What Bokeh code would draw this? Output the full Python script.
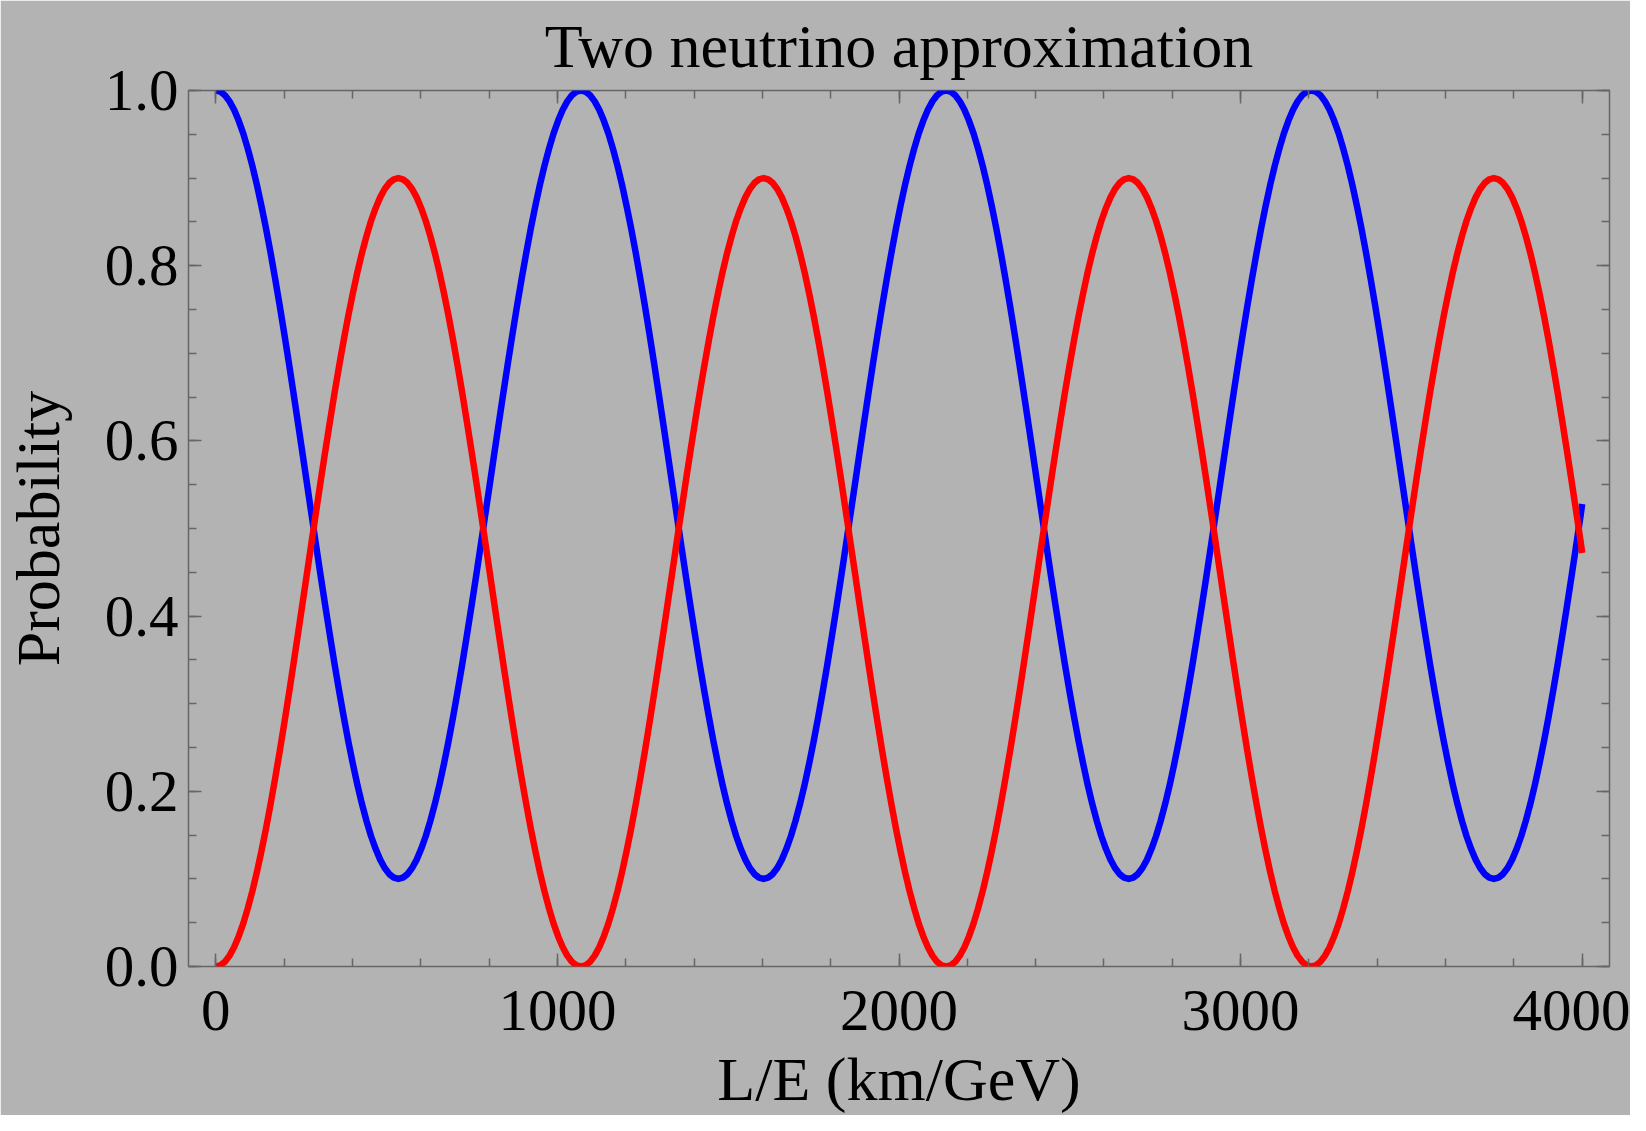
from bokeh.plotting import figure
from bokeh.models import (LinearAxis, SingleIntervalTicker, Range1d,
                          PrintfTickFormatter, CustomLabelingPolicy)
from bokeh.embed import file_html
from bokeh.resources import INLINE

# ---- data ----
le_km_gev = [
    0.0, 13.4, 26.7, 40.1, 53.5, 66.8, 80.2, 93.5, 106.9, 120.3,
    133.6, 147.0, 160.4, 173.7, 187.1, 200.4, 213.8, 227.2, 240.5, 253.9,
    267.3, 280.6, 294.0, 307.3, 320.7, 334.1, 347.4, 360.8, 374.2, 387.5,
    400.9, 414.2, 427.6, 441.0, 454.3, 467.7, 481.1, 494.4, 507.8, 521.1,
    534.5, 547.9, 561.2, 574.6, 588.0, 601.3, 614.7, 628.0, 641.4, 654.8,
    668.1, 681.5, 694.9, 708.2, 721.6, 734.9, 748.3, 761.7, 775.0, 788.4,
    801.8, 815.1, 828.5, 841.8, 855.2, 868.6, 881.9, 895.3, 908.7, 922.0,
    935.4, 948.7, 962.1, 975.5, 988.8, 1002.2, 1015.6, 1028.9, 1042.3, 1055.6,
    1069.0, 1082.4, 1095.7, 1109.1, 1122.5, 1135.8, 1149.2, 1162.5, 1175.9, 1189.3,
    1202.6, 1216.0, 1229.4, 1242.7, 1256.1, 1269.4, 1282.8, 1296.2, 1309.5, 1322.9,
    1336.3, 1349.6, 1363.0, 1376.3, 1389.7, 1403.1, 1416.4, 1429.8, 1443.2, 1456.5,
    1469.9, 1483.2, 1496.6, 1510.0, 1523.3, 1536.7, 1550.1, 1563.4, 1576.8, 1590.1,
    1603.5, 1616.9, 1630.2, 1643.6, 1657.0, 1670.3, 1683.7, 1697.0, 1710.4, 1723.8,
    1737.1, 1750.5, 1763.9, 1777.2, 1790.6, 1803.9, 1817.3, 1830.7, 1844.0, 1857.4,
    1870.8, 1884.1, 1897.5, 1910.8, 1924.2, 1937.6, 1950.9, 1964.3, 1977.7, 1991.0,
    2004.4, 2017.7, 2031.1, 2044.5, 2057.8, 2071.2, 2084.6, 2097.9, 2111.3, 2124.6,
    2138.0, 2151.4, 2164.7, 2178.1, 2191.5, 2204.8, 2218.2, 2231.5, 2244.9, 2258.3,
    2271.6, 2285.0, 2298.4, 2311.7, 2325.1, 2338.4, 2351.8, 2365.2, 2378.5, 2391.9,
    2405.3, 2418.6, 2432.0, 2445.3, 2458.7, 2472.1, 2485.4, 2498.8, 2512.2, 2525.5,
    2538.9, 2552.2, 2565.6, 2579.0, 2592.3, 2605.7, 2619.1, 2632.4, 2645.8, 2659.1,
    2672.5, 2685.9, 2699.2, 2712.6, 2726.0, 2739.3, 2752.7, 2766.0, 2779.4, 2792.8,
    2806.1, 2819.5, 2832.9, 2846.2, 2859.6, 2872.9, 2886.3, 2899.7, 2913.0, 2926.4,
    2939.8, 2953.1, 2966.5, 2979.8, 2993.2, 3006.6, 3019.9, 3033.3, 3046.7, 3060.0,
    3073.4, 3086.7, 3100.1, 3113.5, 3126.8, 3140.2, 3153.6, 3166.9, 3180.3, 3193.6,
    3207.0, 3220.4, 3233.7, 3247.1, 3260.5, 3273.8, 3287.2, 3300.5, 3313.9, 3327.3,
    3340.6, 3354.0, 3367.4, 3380.7, 3394.1, 3407.4, 3420.8, 3434.2, 3447.5, 3460.9,
    3474.3, 3487.6, 3501.0, 3514.3, 3527.7, 3541.1, 3554.4, 3567.8, 3581.2, 3594.5,
    3607.9, 3621.2, 3634.6, 3648.0, 3661.3, 3674.7, 3688.1, 3701.4, 3714.8, 3728.1,
    3741.5, 3754.9, 3768.2, 3781.6, 3795.0, 3808.3, 3821.7, 3835.0, 3848.4, 3861.8,
    3875.1, 3888.5, 3901.9, 3915.2, 3928.6, 3941.9, 3955.3, 3968.7, 3982.0, 3995.4,
    4000.0,
]

# survival probability (blue curve)
p_survival = [
    1.0000, 0.9986, 0.9945, 0.9876, 0.9780, 0.9657, 0.9510, 0.9337, 0.9141, 0.8922,
    0.8682, 0.8423, 0.8145, 0.7851, 0.7543, 0.7222, 0.6891, 0.6550, 0.6204, 0.5853,
    0.5500, 0.5147, 0.4796, 0.4450, 0.4109, 0.3778, 0.3457, 0.3149, 0.2855, 0.2577,
    0.2318, 0.2078, 0.1859, 0.1663, 0.1490, 0.1343, 0.1220, 0.1124, 0.1055, 0.1014,
    0.1000, 0.1014, 0.1055, 0.1124, 0.1220, 0.1343, 0.1490, 0.1663, 0.1859, 0.2078,
    0.2318, 0.2577, 0.2855, 0.3149, 0.3457, 0.3778, 0.4109, 0.4450, 0.4796, 0.5147,
    0.5500, 0.5853, 0.6204, 0.6550, 0.6891, 0.7222, 0.7543, 0.7851, 0.8145, 0.8423,
    0.8682, 0.8922, 0.9141, 0.9337, 0.9510, 0.9657, 0.9780, 0.9876, 0.9945, 0.9986,
    1.0000, 0.9986, 0.9945, 0.9876, 0.9780, 0.9657, 0.9510, 0.9337, 0.9141, 0.8922,
    0.8682, 0.8423, 0.8145, 0.7851, 0.7543, 0.7222, 0.6891, 0.6550, 0.6204, 0.5853,
    0.5500, 0.5147, 0.4796, 0.4450, 0.4109, 0.3778, 0.3457, 0.3149, 0.2855, 0.2577,
    0.2318, 0.2078, 0.1859, 0.1663, 0.1490, 0.1343, 0.1220, 0.1124, 0.1055, 0.1014,
    0.1000, 0.1014, 0.1055, 0.1124, 0.1220, 0.1343, 0.1490, 0.1663, 0.1859, 0.2078,
    0.2318, 0.2577, 0.2855, 0.3149, 0.3457, 0.3778, 0.4109, 0.4450, 0.4796, 0.5147,
    0.5500, 0.5853, 0.6204, 0.6550, 0.6891, 0.7222, 0.7543, 0.7851, 0.8145, 0.8423,
    0.8682, 0.8922, 0.9141, 0.9337, 0.9510, 0.9657, 0.9780, 0.9876, 0.9945, 0.9986,
    1.0000, 0.9986, 0.9945, 0.9876, 0.9780, 0.9657, 0.9510, 0.9337, 0.9141, 0.8922,
    0.8682, 0.8423, 0.8145, 0.7851, 0.7543, 0.7222, 0.6891, 0.6550, 0.6204, 0.5853,
    0.5500, 0.5147, 0.4796, 0.4450, 0.4109, 0.3778, 0.3457, 0.3149, 0.2855, 0.2577,
    0.2318, 0.2078, 0.1859, 0.1663, 0.1490, 0.1343, 0.1220, 0.1124, 0.1055, 0.1014,
    0.1000, 0.1014, 0.1055, 0.1124, 0.1220, 0.1343, 0.1490, 0.1663, 0.1859, 0.2078,
    0.2318, 0.2577, 0.2855, 0.3149, 0.3457, 0.3778, 0.4109, 0.4450, 0.4796, 0.5147,
    0.5500, 0.5853, 0.6204, 0.6550, 0.6891, 0.7222, 0.7543, 0.7851, 0.8145, 0.8423,
    0.8682, 0.8922, 0.9141, 0.9337, 0.9510, 0.9657, 0.9780, 0.9876, 0.9945, 0.9986,
    1.0000, 0.9986, 0.9945, 0.9876, 0.9780, 0.9657, 0.9510, 0.9337, 0.9141, 0.8922,
    0.8682, 0.8423, 0.8145, 0.7851, 0.7543, 0.7222, 0.6891, 0.6550, 0.6204, 0.5853,
    0.5500, 0.5147, 0.4796, 0.4450, 0.4109, 0.3778, 0.3457, 0.3149, 0.2855, 0.2577,
    0.2318, 0.2078, 0.1859, 0.1663, 0.1490, 0.1343, 0.1220, 0.1124, 0.1055, 0.1014,
    0.1000, 0.1014, 0.1055, 0.1124, 0.1220, 0.1343, 0.1490, 0.1663, 0.1859, 0.2078,
    0.2318, 0.2577, 0.2855, 0.3149, 0.3457, 0.3778, 0.4109, 0.4450, 0.4796, 0.5147,
    0.5280,
]

# oscillation probability (red curve)
p_oscillation = [
    0.0000, 0.0014, 0.0055, 0.0124, 0.0220, 0.0343, 0.0490, 0.0663, 0.0859, 0.1078,
    0.1318, 0.1577, 0.1855, 0.2149, 0.2457, 0.2778, 0.3109, 0.3450, 0.3796, 0.4147,
    0.4500, 0.4853, 0.5204, 0.5550, 0.5891, 0.6222, 0.6543, 0.6851, 0.7145, 0.7423,
    0.7682, 0.7922, 0.8141, 0.8337, 0.8510, 0.8657, 0.8780, 0.8876, 0.8945, 0.8986,
    0.9000, 0.8986, 0.8945, 0.8876, 0.8780, 0.8657, 0.8510, 0.8337, 0.8141, 0.7922,
    0.7682, 0.7423, 0.7145, 0.6851, 0.6543, 0.6222, 0.5891, 0.5550, 0.5204, 0.4853,
    0.4500, 0.4147, 0.3796, 0.3450, 0.3109, 0.2778, 0.2457, 0.2149, 0.1855, 0.1577,
    0.1318, 0.1078, 0.0859, 0.0663, 0.0490, 0.0343, 0.0220, 0.0124, 0.0055, 0.0014,
    0.0000, 0.0014, 0.0055, 0.0124, 0.0220, 0.0343, 0.0490, 0.0663, 0.0859, 0.1078,
    0.1318, 0.1577, 0.1855, 0.2149, 0.2457, 0.2778, 0.3109, 0.3450, 0.3796, 0.4147,
    0.4500, 0.4853, 0.5204, 0.5550, 0.5891, 0.6222, 0.6543, 0.6851, 0.7145, 0.7423,
    0.7682, 0.7922, 0.8141, 0.8337, 0.8510, 0.8657, 0.8780, 0.8876, 0.8945, 0.8986,
    0.9000, 0.8986, 0.8945, 0.8876, 0.8780, 0.8657, 0.8510, 0.8337, 0.8141, 0.7922,
    0.7682, 0.7423, 0.7145, 0.6851, 0.6543, 0.6222, 0.5891, 0.5550, 0.5204, 0.4853,
    0.4500, 0.4147, 0.3796, 0.3450, 0.3109, 0.2778, 0.2457, 0.2149, 0.1855, 0.1577,
    0.1318, 0.1078, 0.0859, 0.0663, 0.0490, 0.0343, 0.0220, 0.0124, 0.0055, 0.0014,
    0.0000, 0.0014, 0.0055, 0.0124, 0.0220, 0.0343, 0.0490, 0.0663, 0.0859, 0.1078,
    0.1318, 0.1577, 0.1855, 0.2149, 0.2457, 0.2778, 0.3109, 0.3450, 0.3796, 0.4147,
    0.4500, 0.4853, 0.5204, 0.5550, 0.5891, 0.6222, 0.6543, 0.6851, 0.7145, 0.7423,
    0.7682, 0.7922, 0.8141, 0.8337, 0.8510, 0.8657, 0.8780, 0.8876, 0.8945, 0.8986,
    0.9000, 0.8986, 0.8945, 0.8876, 0.8780, 0.8657, 0.8510, 0.8337, 0.8141, 0.7922,
    0.7682, 0.7423, 0.7145, 0.6851, 0.6543, 0.6222, 0.5891, 0.5550, 0.5204, 0.4853,
    0.4500, 0.4147, 0.3796, 0.3450, 0.3109, 0.2778, 0.2457, 0.2149, 0.1855, 0.1577,
    0.1318, 0.1078, 0.0859, 0.0663, 0.0490, 0.0343, 0.0220, 0.0124, 0.0055, 0.0014,
    0.0000, 0.0014, 0.0055, 0.0124, 0.0220, 0.0343, 0.0490, 0.0663, 0.0859, 0.1078,
    0.1318, 0.1577, 0.1855, 0.2149, 0.2457, 0.2778, 0.3109, 0.3450, 0.3796, 0.4147,
    0.4500, 0.4853, 0.5204, 0.5550, 0.5891, 0.6222, 0.6543, 0.6851, 0.7145, 0.7423,
    0.7682, 0.7922, 0.8141, 0.8337, 0.8510, 0.8657, 0.8780, 0.8876, 0.8945, 0.8986,
    0.9000, 0.8986, 0.8945, 0.8876, 0.8780, 0.8657, 0.8510, 0.8337, 0.8141, 0.7922,
    0.7682, 0.7423, 0.7145, 0.6851, 0.6543, 0.6222, 0.5891, 0.5550, 0.5204, 0.4853,
    0.4720,
]

title_text = "Two neutrino approximation"
x_label = "L/E (km/GeV)"
y_label = "Probability"

# ---- styling ----
BG = "#b3b3b3"
FRAME = "#666666"
FONT = "Liberation Serif"

p = figure(
    width=1630, height=1115,
    output_backend="svg", toolbar_location=None,
    x_range=Range1d(-80, 4080), y_range=Range1d(0, 1),
    min_border_left=185, min_border_right=21,
    min_border_top=90, min_border_bottom=147,
    background_fill_color=BG, border_fill_color=BG,
    outline_line_color=FRAME, outline_line_width=1.5,
    title=title_text,
)
p.grid.visible = False

p.title.text_font = FONT
p.title.text_font_size = "62px"
p.title.text_font_style = "normal"
p.title.text_color = "black"
p.title.align = "center"
p.title.standoff = 13

no_labels = CustomLabelingPolicy(
    code="const all = [...indices]; for (const i of all) indices.unset(i); return indices;"
)


def style_axis(ax, ticker, labels=True):
    ax.ticker = ticker
    ax.axis_line_color = None
    ax.major_tick_line_color = FRAME
    ax.minor_tick_line_color = FRAME
    ax.major_tick_line_width = 1.5
    ax.minor_tick_line_width = 1.5
    ax.major_tick_in = 13
    ax.major_tick_out = 0
    ax.minor_tick_in = 8
    ax.minor_tick_out = 0
    if labels:
        ax.major_label_text_font = FONT
        ax.major_label_text_font_size = "59px"
        ax.major_label_text_color = "black"
        ax.axis_label_text_font = FONT
        ax.axis_label_text_font_size = "62px"
        ax.axis_label_text_font_style = "normal"
        ax.axis_label_text_color = "black"
    else:
        ax.major_label_policy = no_labels
        ax.major_label_text_font_size = "1px"
        ax.major_label_standoff = 0


style_axis(p.xaxis[0], SingleIntervalTicker(interval=1000, num_minor_ticks=5))
style_axis(p.yaxis[0], SingleIntervalTicker(interval=0.2, num_minor_ticks=4))
p.yaxis[0].formatter = PrintfTickFormatter(format="%.1f")
p.xaxis[0].axis_label = x_label
p.yaxis[0].axis_label = y_label
p.xaxis[0].major_label_standoff = 24
p.yaxis[0].major_label_standoff = 10
p.xaxis[0].axis_label_standoff = 12
p.yaxis[0].axis_label_standoff = 30

top = LinearAxis()
style_axis(top, SingleIntervalTicker(interval=1000, num_minor_ticks=5), labels=False)
p.add_layout(top, "above")
right = LinearAxis()
style_axis(right, SingleIntervalTicker(interval=0.2, num_minor_ticks=4), labels=False)
p.add_layout(right, "right")

p.line(le_km_gev, p_survival, line_color="#0000ff", line_width=6.5, line_join="round")
p.line(le_km_gev, p_oscillation, line_color="#ff0000", line_width=6.5, line_join="round")

open("out.html", "w").write(file_html(p, INLINE))
